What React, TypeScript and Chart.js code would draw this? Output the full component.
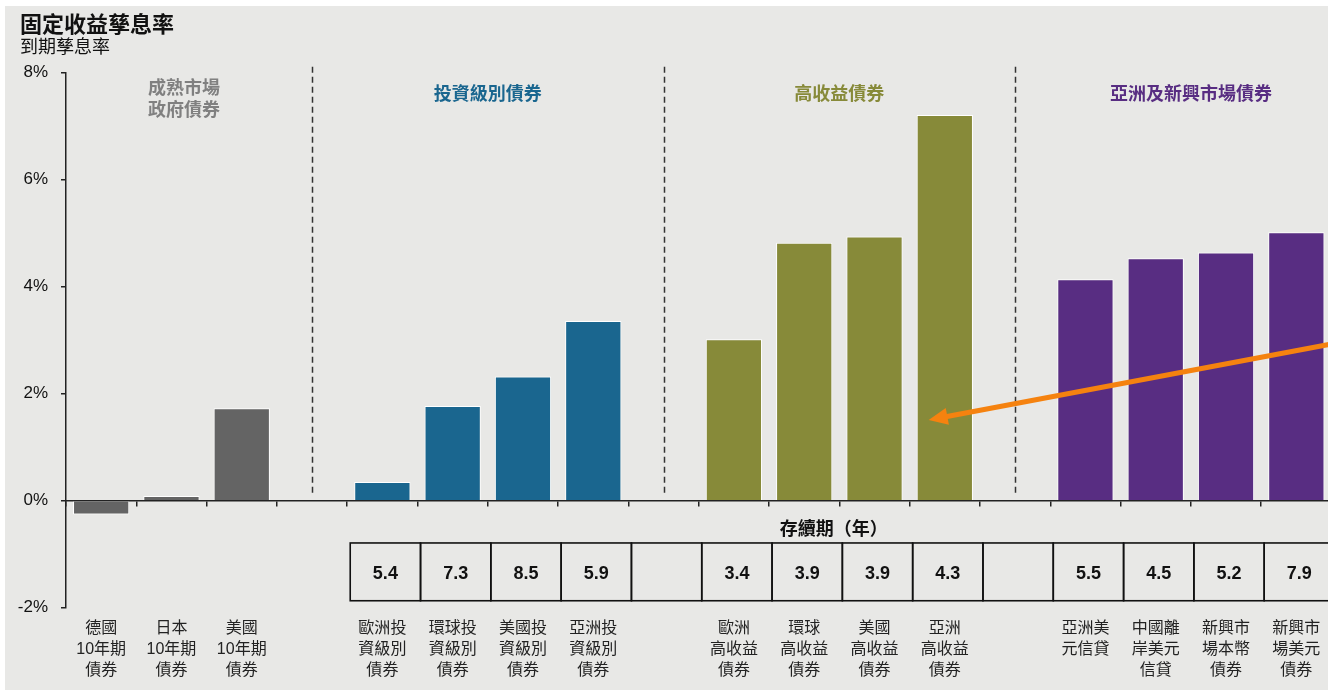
import React, { useEffect, useRef } from 'react';
import { Chart, registerables } from 'chart.js';

Chart.register(...registerables);

// ---------------- data ----------------
const CATEGORIES: string[][] = [
  ['德國', '10年期', '債券'],
  ['日本', '10年期', '債券'],
  ['美國', '10年期', '債券'],
  [''],
  ['歐洲投', '資級別', '債券'],
  ['環球投', '資級別', '債券'],
  ['美國投', '資級別', '債券'],
  ['亞洲投', '資級別', '債券'],
  [''],
  ['歐洲', '高收益', '債券'],
  ['環球', '高收益', '債券'],
  ['美國', '高收益', '債券'],
  ['亞洲', '高收益', '債券'],
  [''],
  ['亞洲美', '元信貸'],
  ['中國離', '岸美元', '信貸'],
  ['新興市', '場本幣', '債券'],
  ['新興市', '場美元', '債券'],
];

const YIELDS: (number | null)[] = [
  -0.26, 0.09, 1.73, null,
  0.35, 1.77, 2.32, 3.36, null,
  3.02, 4.82, 4.94, 7.21, null,
  4.14, 4.53, 4.64, 5.02,
];

const GROUP_OF: string[] = [
  'dm', 'dm', 'dm', 'gap',
  'ig', 'ig', 'ig', 'ig', 'gap',
  'hy', 'hy', 'hy', 'hy', 'gap',
  'em', 'em', 'em', 'em',
];

const DURATIONS: (string | null)[] = [
  null, null, null, null,
  '5.4', '7.3', '8.5', '5.9', '',
  '3.4', '3.9', '3.9', '4.3', '',
  '5.5', '4.5', '5.2', '7.9',
];

const GROUP_TITLES: { key: string; lines: string[] }[] = [
  { key: 'dm', lines: ['成熟市場', '政府債券'] },
  { key: 'ig', lines: ['投資級別債券'] },
  { key: 'hy', lines: ['高收益債券'] },
  { key: 'em', lines: ['亞洲及新興市場債券'] },
];

const Y_TICKS_MIN = -2;
const Y_TICKS_MAX = 8;
const Y_STEP = 2;

const TITLE = '固定收益孳息率';
const SUBTITLE = '到期孳息率';
const DURATION_TITLE = '存續期（年）';

// arrow annotation in data coordinates (category index, yield %)
const ARROW_FROM = { index: 17.5, value: 2.93 };
const ARROW_TO = { index: 11.77, value: 1.51 };

// ---------------- styles ----------------
const FONT = '"Liberation Sans", "Noto Sans CJK TC", "Noto Sans", sans-serif';
const BG = '#e8e8e6';
const COLORS: Record<string, string> = {
  dm: '#646464',
  ig: '#1a668f',
  hy: '#878a39',
  em: '#582d82',
  gap: 'rgba(0,0,0,0)',
};
const TITLE_COLORS: Record<string, string> = {
  dm: '#808080',
  ig: '#1a668f',
  hy: '#878a39',
  em: '#582d82',
};
const GROUP_CENTER: Record<string, number> = { dm: 1.18, ig: 5.5, hy: 10.5, em: 15.5 };

const overlayPlugin = {
  id: 'overlay',
  beforeDatasetsDraw(chart: any) {
    const { ctx, chartArea, scales } = chart;
    const xs = scales.x;
    const ys = scales.y;
    ctx.save();
    ctx.strokeStyle = '#333';
    ctx.lineWidth = 1.5;
    ctx.setLineDash([6, 4]);
    GROUP_OF.forEach((g, i) => {
      if (g !== 'gap') return;
      const x = Math.round(xs.getPixelForValue(i)) + 0.5;
      ctx.beginPath();
      ctx.moveTo(x, chartArea.top - 6);
      ctx.lineTo(x, ys.getPixelForValue(0) - 8);
      ctx.stroke();
    });
    ctx.restore();
  },
  afterDraw(chart: any) {
    const { ctx, chartArea, scales } = chart;
    const xs = scales.x;
    const ys = scales.y;
    ctx.save();

    // Title + subtitle
    ctx.textBaseline = 'middle';
    ctx.textAlign = 'left';
    ctx.fillStyle = '#111';
    ctx.font = `bold 22px ${FONT}`;
    ctx.fillText(TITLE, 15, 19.5);
    ctx.font = `18px ${FONT}`;
    ctx.fillText(SUBTITLE, 15, 42);

    // Group titles
    ctx.textAlign = 'center';
    ctx.font = `bold 18px ${FONT}`;
    GROUP_TITLES.forEach((gt) => {
      ctx.fillStyle = TITLE_COLORS[gt.key];
      const cx = xs.getPixelForValue(GROUP_CENTER[gt.key]);
      if (gt.lines.length === 1) {
        ctx.fillText(gt.lines[0], cx, chartArea.top + 22);
      } else {
        gt.lines.forEach((l, k) => ctx.fillText(l, cx, chartArea.top + 16.5 + k * 22));
      }
    });

    // Duration table
    ctx.fillStyle = '#111';
    ctx.font = `bold 18px ${FONT}`;
    ctx.fillText(DURATION_TITLE, xs.getPixelForValue(10.42), ys.getPixelForValue(-0.51) + 2);
    const top = ys.getPixelForValue(-0.79);
    const bottom = ys.getPixelForValue(-1.87);
    ctx.strokeStyle = '#111';
    ctx.lineWidth = 1.6;
    ctx.font = `bold 18px ${FONT}`;
    DURATIONS.forEach((d, i) => {
      if (d === null) return;
      const l = xs.getPixelForValue(i - 0.5) + 3;
      const r = xs.getPixelForValue(i + 0.5) + 3;
      ctx.strokeRect(l, top, r - l, bottom - top);
      if (d) ctx.fillText(d, (l + r) / 2, (top + bottom) / 2 + 2);
    });

    // Arrow
    const x1 = xs.getPixelForValue(ARROW_FROM.index);
    const y1 = ys.getPixelForValue(ARROW_FROM.value);
    const x2 = xs.getPixelForValue(ARROW_TO.index);
    const y2 = ys.getPixelForValue(ARROW_TO.value);
    const ang = Math.atan2(y2 - y1, x2 - x1);
    const headLen = 19;
    const headHalf = 8.5;
    const bx = x2 - headLen * Math.cos(ang);
    const by = y2 - headLen * Math.sin(ang);
    ctx.strokeStyle = '#f5820f';
    ctx.fillStyle = '#f5820f';
    ctx.lineWidth = 5;
    ctx.lineCap = 'butt';
    ctx.beginPath();
    ctx.moveTo(x1, y1);
    ctx.lineTo(bx + 3 * Math.cos(ang), by + 3 * Math.sin(ang));
    ctx.stroke();
    ctx.beginPath();
    ctx.moveTo(x2, y2);
    ctx.lineTo(bx + headHalf * Math.sin(ang), by - headHalf * Math.cos(ang));
    ctx.lineTo(bx - headHalf * Math.sin(ang), by + headHalf * Math.cos(ang));
    ctx.closePath();
    ctx.fill();

    ctx.restore();
  },
};

export default function App() {
  const canvasRef = useRef<HTMLCanvasElement | null>(null);

  useEffect(() => {
    if (!canvasRef.current) return;
    const chart = new Chart(canvasRef.current, {
      type: 'bar',
      data: {
        labels: CATEGORIES,
        datasets: [
          {
            data: YIELDS,
            backgroundColor: GROUP_OF.map((g) => COLORS[g]),
            borderColor: '#ffffff',
            borderWidth: 1,
            barPercentage: 0.8,
            categoryPercentage: 1.0,
          },
        ],
      },
      options: {
        animation: false,
        responsive: true,
        maintainAspectRatio: false,
        devicePixelRatio: 1,
        layout: { padding: { top: 66.7, left: 0, right: 5.5, bottom: 0 } },
        plugins: {
          legend: { display: false },
          tooltip: { enabled: false },
          title: { display: false },
        },
        scales: {
          x: {
            type: 'category',
            position: { y: 0 } as any,
            offset: true,
            ticks: { display: false },
            grid: {
              drawOnChartArea: false,
              offset: true,
              tickLength: 5,
              color: '#222',
              lineWidth: 1.5,
            },
            border: { display: true, color: '#222', width: 1.5 },
          },
          x2: {
            type: 'category',
            labels: CATEGORIES as any,
            position: 'bottom',
            offset: true,
            grid: { display: false, drawTicks: false },
            border: { display: false },
            ticks: {
              autoSkip: false,
              maxRotation: 0,
              minRotation: 0,
              padding: 10,
              color: '#222',
              font: { size: 16, family: FONT, lineHeight: 1.33 },
            },
            afterFit: (s: any) => {
              s.height = 82.3;
            },
          },
          y: {
            min: Y_TICKS_MIN,
            max: Y_TICKS_MAX,
            ticks: {
              stepSize: Y_STEP,
              padding: 13,
              color: '#111',
              font: { size: 17, family: FONT },
              callback: (v: any) => `${v}%`,
            },
            grid: {
              drawOnChartArea: false,
              tickLength: 5,
              color: '#222',
              lineWidth: 1.5,
            },
            border: { display: true, color: '#222', width: 1.5 },
            afterFit: (s: any) => {
              s.width = 61;
            },
          },
        } as any,
      },
      plugins: [overlayPlugin],
    });
    return () => chart.destroy();
  }, []);

  return (
    <div
      style={{
        position: 'fixed',
        left: 5,
        top: 6,
        width: 1323,
        height: 684,
        background: BG,
        overflow: 'hidden',
      }}
    >
      <div style={{ position: 'relative', width: 1332, height: 684 }}>
        <canvas ref={canvasRef} />
      </div>
    </div>
  );
}
